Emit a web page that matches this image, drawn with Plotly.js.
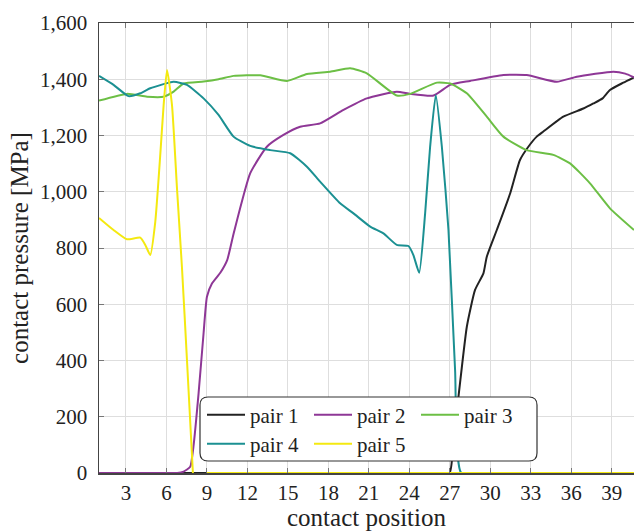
<!DOCTYPE html>
<html>
<head>
<meta charset="utf-8">
<script src="https://cdn.plot.ly/plotly-3.0.1.min.js"></script>
<style>html,body{margin:0;padding:0;background:#fff;} #chart{width:634px;height:531px;}</style>
</head>
<body>
<div id="chart"></div>
<script>
// ---- data ----
var seriesNames = ["pair 1", "pair 2", "pair 3", "pair 4", "pair 5"];

var pair1X = [1, 5, 10, 15, 20, 25, 26.97, 27.27, 27.64, 28.26, 28.87, 29.49, 29.74, 30.48, 31.47, 32.2, 32.82, 33.44, 33.93, 35.41, 36.9, 37.64, 38.32, 38.87, 39.86, 40.65];
var pair1Y = [0, 0, 0, 0, 0, 0, 0, 129, 271, 520, 651, 710, 769, 864, 994, 1113, 1160, 1196, 1214, 1267, 1296, 1314, 1332, 1362, 1388, 1407];

var pair2X = [1, 4, 6, 6.8, 7.27, 7.76, 8.0, 8.38, 8.75, 9.0, 9.37, 9.99, 10.5, 10.97, 12.21, 13.44, 14.67, 15.91, 17.39, 19.12, 20.85, 23.07, 24.06, 25.79, 27.02, 28.5, 30.97, 32.7, 34.93, 36.41, 39.12, 40.0, 40.65];
var pair2Y = [0, 0, 0, 0, 5, 22, 94, 283, 497, 627, 674, 712, 757, 850, 1066, 1160, 1202, 1231, 1243, 1291, 1332, 1356, 1348, 1342, 1380, 1394, 1415, 1415, 1391, 1409, 1427, 1420, 1407];

var pair3X = [1, 3.07, 4.56, 5.79, 6.53, 7.27, 8.75, 9.86, 10.97, 12.95, 14.93, 16.41, 18.13, 19.61, 20.85, 23.07, 24.06, 26.04, 27.02, 28.26, 29.74, 30.97, 32.7, 34.67, 35.91, 37.39, 38.87, 40.65];
var pair3Y = [1324, 1348, 1338, 1338, 1356, 1385, 1392, 1400, 1412, 1414, 1394, 1419, 1427, 1439, 1421, 1342, 1348, 1388, 1385, 1350, 1267, 1196, 1148, 1131, 1101, 1030, 941, 864];

var pair4X = [1, 2.08, 3.19, 4.06, 4.8, 6.53, 7.52, 8.75, 9.86, 10.97, 12.21, 13.69, 15.17, 16.41, 17.39, 18.87, 19.86, 21.1, 22.08, 23.07, 23.93, 24.3, 24.73, 25.17, 25.54, 25.96, 26.41, 26.9, 27.39, 27.85, 30, 35, 40.65];
var pair4Y = [1412, 1380, 1340, 1350, 1368, 1391, 1380, 1332, 1273, 1196, 1163, 1148, 1137, 1089, 1036, 959, 923, 876, 852, 811, 807, 775, 712, 923, 1160, 1344, 1160, 864, 366, 0, 0, 0, 0];

var pair5X = [1, 2.08, 3.07, 4.06, 4.43, 4.8, 5.17, 5.54, 5.79, 6.04, 6.41, 6.78, 7.15, 7.52, 7.96, null, 9, 20, 30, 40.65];
var pair5Y = [907, 864, 831, 837, 811, 775, 893, 1131, 1308, 1433, 1308, 1012, 730, 402, 0, null, 0, 0, 0, 0];

var xTickVals = [3, 6, 9, 12, 15, 18, 21, 24, 27, 30, 33, 36, 39];
var yTickVals = [0, 200, 400, 600, 800, 1000, 1200, 1400, 1600];

var colors = ["#222222", "#8e3796", "#6cbf45", "#1b9092", "#f4e910"];
var FONT = "Liberation Serif, Times New Roman, serif";

var xs = [pair1X, pair2X, pair3X, pair4X, pair5X];
var ys = [pair1Y, pair2Y, pair3Y, pair4Y, pair5Y];
var traces = xs.map(function (x, i) {
  return {
    x: x, y: ys[i], name: seriesNames[i], type: "scatter", mode: "lines",
    line: {color: colors[i], width: 2, shape: "spline", smoothing: 0.5},
    connectgaps: false,
    legend: i < 3 ? "legend" : "legend2"
  };
});

// plot area in pixels: left 99, top 23, right 634, bottom 473
function px2x(px) { return (px - 99) / 535; }
function py2y(py) { return (473 - py) / 450; }
var bx0 = px2x(200), bx1 = px2x(537), by0 = py2y(461), by1 = py2y(397);
var rx = 8 / 535, ry = 8 / 450;
var boxPath = "M" + (bx0 + rx) + "," + by0 + " L" + (bx1 - rx) + "," + by0 +
  " Q" + bx1 + "," + by0 + " " + bx1 + "," + (by0 + ry) +
  " L" + bx1 + "," + (by1 - ry) + " Q" + bx1 + "," + by1 + " " + (bx1 - rx) + "," + by1 +
  " L" + (bx0 + rx) + "," + by1 + " Q" + bx0 + "," + by1 + " " + bx0 + "," + (by1 - ry) +
  " L" + bx0 + "," + (by0 + ry) + " Q" + bx0 + "," + by0 + " " + (bx0 + rx) + "," + by0 + " Z";

var legendCommon = {
  orientation: "h", xanchor: "left", yanchor: "middle",
  bgcolor: "rgba(0,0,0,0)", borderwidth: 0,
  font: {family: FONT, size: 21, color: "#222"},
  entrywidth: 54, entrywidthmode: "pixels", itemwidth: 38
};

var layout = {
  width: 634, height: 531,
  margin: {l: 99, r: 0, t: 23, b: 58},
  paper_bgcolor: "#fff", plot_bgcolor: "#fff",
  showlegend: true,
  font: {family: FONT, size: 21, color: "#222"},
  xaxis: {
    range: [1, 40.65], tickvals: xTickVals, ticks: "inside", ticklen: 5, tickcolor: "#777",
    showgrid: true, gridcolor: "#dedede", gridwidth: 1, zeroline: false,
    showline: true, linecolor: "#444", linewidth: 1.5, mirror: "ticks",
    tickfont: {family: FONT, size: 21, color: "#222"}, ticklabelstandoff: 0,
    title: {text: "contact position", font: {family: FONT, size: 25, color: "#222"}, standoff: 1}
  },
  yaxis: {
    range: [0, 1600], tickvals: yTickVals, tickformat: ",d", ticks: "inside", ticklen: 5, tickcolor: "#777",
    showgrid: true, gridcolor: "#dedede", gridwidth: 1, zeroline: false,
    showline: true, linecolor: "#444", linewidth: 1.5, mirror: false,
    tickfont: {family: FONT, size: 21, color: "#222"}, ticklabelstandoff: 6,
    title: {text: "contact pressure [MPa]", font: {family: FONT, size: 25, color: "#222"}, standoff: 4}
  },
  legend: Object.assign({}, legendCommon, {x: px2x(202), y: py2y(415)}),
  legend2: Object.assign({}, legendCommon, {x: px2x(202), y: py2y(444)}),
  shapes: [{
    type: "path", path: boxPath, xref: "paper", yref: "paper", layer: "above",
    fillcolor: "#ffffff", line: {color: "#333", width: 1.2}
  }]
};

Plotly.newPlot("chart", traces, layout, {staticPlot: true, displayModeBar: false});
</script>
</body>
</html>
